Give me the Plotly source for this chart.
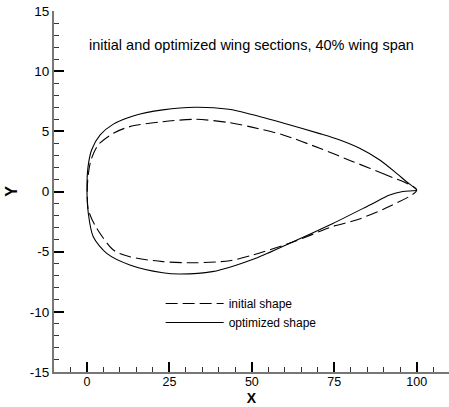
import plotly.graph_objects as go

# Optimized shape (TE -> upper -> LE -> lower -> TE)
opt_x = [100, 96.9, 93.9, 88.8, 82.7, 76.7, 70.6, 60, 50, 43, 33, 23, 14, 8, 4, 1.4, 0.3, 0,
         0.4, 1.9, 6, 13, 23, 28, 38, 51, 62.5, 74.6, 85.8, 91.8, 95.8, 98.9, 100]
opt_y = [0.12, 0.81, 1.51, 2.62, 3.59, 4.28, 4.81, 5.65, 6.4, 6.83, 7.0, 6.78, 6.28, 5.6, 4.7, 3.45, 2.0, 0.1,
         -1.8, -3.76, -5.14, -6.1, -6.75, -6.86, -6.66, -5.56, -4.17, -2.65, -1.12, -0.29, 0.0, 0.06, 0.12]

# Initial shape
ini_x = [100, 90.8, 80.7, 70.6, 59.5, 50, 43.3, 33, 23, 13, 8, 3.4, 1.2, 0.3, 0.1,
         0.4, 2.4, 8, 13, 23, 33, 43.3, 50, 62.5, 74.6, 81.7, 90.8, 100]
ini_y = [0.12, 1.37, 2.48, 3.59, 4.7, 5.35, 5.72, 6.0, 5.8, 5.39, 4.84, 3.87, 2.6, 1.2, 0.0,
         -1.5, -2.8, -4.86, -5.42, -5.83, -5.92, -5.75, -5.3, -4.2, -2.9, -2.37, -1.35, 0.12]

x_ticks = [0, 25, 50, 75, 100]
y_ticks = [-15, -10, -5, 0, 5, 10, 15]
title_text = "initial and optimized wing sections, 40% wing span"

fig = go.Figure()
fig.add_trace(go.Scatter(x=ini_x, y=ini_y, mode="lines", name="initial shape",
                         line=dict(color="black", width=1.1, dash="12px,5px", shape="spline", smoothing=0.8)))
fig.add_trace(go.Scatter(x=opt_x, y=opt_y, mode="lines", name="optimized shape",
                         line=dict(color="black", width=1.1, shape="spline", smoothing=0.8)))

font = "Liberation Sans, Arial, sans-serif"
fig.update_layout(
    width=449, height=407,
    margin=dict(l=54, r=0, t=11, b=35),
    paper_bgcolor="white", plot_bgcolor="white",
    font=dict(family=font, size=12, color="black"),
    showlegend=True,
    legend=dict(x=0.27, y=0.23, xanchor="left", yanchor="top", bgcolor="rgba(0,0,0,0)",
                font=dict(size=12), tracegroupgap=0, itemwidth=58),
    xaxis=dict(range=[-10, 109.8], tickvals=x_ticks, ticktext=[str(v) for v in x_ticks],
               ticks="inside", ticklen=10, tickwidth=2, automargin=False, ticklabelstandoff=-3,
               tickcolor="black", showline=True, linecolor="#777", linewidth=2, showgrid=False,
               zeroline=False, minor=dict(dtick=5, ticks="inside", ticklen=5, tickcolor="#333", tickwidth=1),
               title=dict(text="<b>X</b>", font=dict(size=14), standoff=5),
               tickfont=dict(size=12.5)),
    yaxis=dict(range=[-15, 15], tickvals=y_ticks, ticktext=[str(v) for v in y_ticks],
               ticks="inside", ticklen=10, tickwidth=2, automargin=False,
               tickcolor="black", showline=True, linecolor="#777", linewidth=2, showgrid=False,
               zeroline=False, minor=dict(dtick=1, ticks="inside", ticklen=5, tickcolor="#333", tickwidth=1),
               title=dict(text="<b>Y</b>", font=dict(size=16), standoff=8),
               tickfont=dict(size=13.5)),
    annotations=[dict(text=title_text, x=0.5, y=0.933, xref="paper", yref="paper",
                      showarrow=False, font=dict(size=14.5))],
)
fig.write_html("out.html")
